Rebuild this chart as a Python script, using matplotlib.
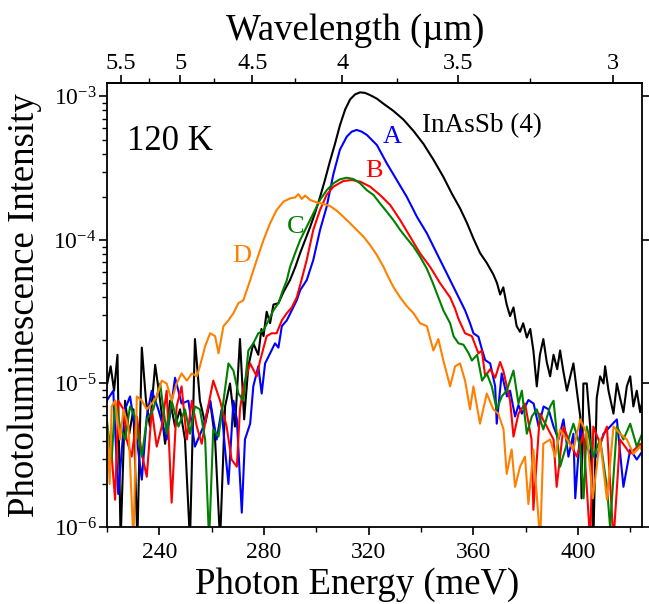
import numpy as np
import matplotlib
matplotlib.use("Agg")
import matplotlib.pyplot as plt
from matplotlib.ticker import FixedLocator, FuncFormatter, LogLocator, NullFormatter

plt.rcParams['font.family'] = ['Liberation Serif', 'DejaVu Serif']
plt.rcParams['mathtext.fontset'] = 'custom'
plt.rcParams['mathtext.rm'] = 'Liberation Serif'
plt.rcParams['mathtext.it'] = 'Liberation Serif:italic'

# ---------------- data (photon energy in meV, log10 of PL intensity) ----------------
E_black = [220.1, 221.4, 222.7, 224.0, 225.2, 226.9, 228.5, 230.1, 231.6, 233.3, 234.9, 236.4, 238.4,
           240.3, 242.2, 244.1, 246.0, 247.9, 249.8, 251.7, 253.6, 255.5, 257.5, 259.4, 261.3, 263.2,
           265.1, 267.0, 268.9, 270.8, 272.4, 274.0, 275.9, 277.8, 279.0, 279.8, 281.0, 282.3, 283.6,
           285.5, 287.5, 289.9, 291.9, 293.8, 295.7, 297.6, 299.5, 301.4, 303.3, 305.2, 307.1, 309.0,
           311.0, 312.9, 314.8, 316.7, 318.6, 320.5, 323.1, 325.6, 329.4, 333.2, 337.1, 340.9, 344.7,
           348.5, 351.7, 354.9, 357.5, 360.0, 362.5, 365.1, 367.6, 369.0, 370.2, 371.4, 372.7, 374.0,
           375.3, 376.5, 377.8, 379.0, 380.4, 381.7, 382.9, 384.2, 385.4, 386.7, 388.0, 389.3, 390.6,
           392.0, 393.1, 394.4, 395.7, 397.0, 398.2, 399.5, 400.8, 401.3, 402.0, 403.3, 404.6, 405.8,
           407.1, 408.4, 409.7, 410.3, 411.6, 413.5, 414.8, 416.0, 417.3, 418.6, 419.9, 421.1, 422.4,
           423.7, 424.9]
L_black = [-5.00, -4.88, -5.05, -4.80, -6.10, -5.12, -5.35, -5.18, -6.10, -4.75, -5.12, -5.30, -4.87,
           -5.12, -5.42, -5.12, -5.30, -5.18, -5.39, -6.10, -4.69, -5.12, -5.28, -5.12, -5.39, -6.10,
           -5.16, -5.00, -5.30, -4.69, -5.25, -4.88, -4.72, -4.80, -4.62, -4.67, -4.50, -4.58, -4.45,
           -4.44, -4.36, -4.28, -4.19, -4.09, -4.00, -3.91, -3.81, -3.70, -3.58, -3.45, -3.33, -3.20,
           -3.09, -3.02, -2.985, -2.971, -2.975, -2.99, -3.015, -3.05, -3.10, -3.16, -3.24, -3.33, -3.44,
           -3.56, -3.675, -3.78, -3.88, -3.99, -4.09, -4.16, -4.24, -4.30, -4.38, -4.33, -4.45, -4.53,
           -4.47, -4.60, -4.64, -4.58, -4.68, -4.62, -4.77, -5.02, -4.80, -4.69, -4.85, -4.95, -4.80,
           -4.90, -4.77, -4.92, -5.05, -4.95, -4.86, -5.05, -5.23, -5.80, -5.00, -5.00, -5.30, -6.10,
           -5.10, -4.95, -5.00, -4.88, -5.05, -5.21, -5.00, -5.10, -5.20, -5.02, -4.95, -5.16, -5.05,
           -5.20, -5.09]

E_A = [219.9, 222.4, 224.3, 226.9, 228.8, 231.4, 233.3, 235.2, 237.1, 239.6, 242.8, 246.0, 248.5,
       251.1, 253.6, 256.8, 259.4, 261.9, 263.8, 265.1, 266.4, 268.3, 269.6, 271.5, 272.7, 274.7,
       275.9, 277.8, 279.1, 280.4, 282.3, 284.2, 285.5, 286.8, 288.7, 290.6, 292.5, 293.8, 296.3,
       298.8, 301.4, 303.9, 306.5, 309.0, 311.6, 313.5, 315.4, 317.3, 319.3, 323.1, 326.9, 330.7,
       334.5, 338.4, 342.2, 346.0, 349.8, 353.6, 356.8, 358.7, 360.0, 361.9, 363.2, 364.5, 366.4,
       368.3, 368.9, 370.8, 372.8, 374.0, 375.9, 377.2, 378.5, 381.0, 383.0, 384.9, 386.8, 388.7,
       390.6, 392.5, 394.4, 396.3, 398.2, 398.9, 400.8, 402.7, 404.6, 407.1, 409.7, 412.2, 414.8,
       417.3, 419.9, 422.4, 425.0]
L_A = [-5.12, -5.05, -5.77, -5.18, -5.09, -5.39, -5.67, -5.23, -5.05, -5.18, -5.39, -4.96, -5.14,
       -5.12, -5.44, -5.30, -5.12, -5.39, -5.18, -5.46, -5.70, -5.12, -5.25, -5.90, -5.39, -5.28,
       -5.02, -4.88, -5.07, -4.86, -4.79, -4.72, -4.75, -4.60, -4.56, -4.49, -4.42, -4.35, -4.28,
       -4.14, -3.93, -3.77, -3.54, -3.37, -3.28, -3.245, -3.233, -3.245, -3.268, -3.338, -3.466, -3.582,
       -3.698, -3.838, -3.953, -4.093, -4.232, -4.372, -4.49, -4.58, -4.65, -4.674, -4.76, -4.837, -4.86,
       -5.02, -5.28, -4.93, -5.09, -5.05, -5.23, -5.15, -5.21, -5.115, -5.14, -5.30, -5.16, -5.18,
       -5.30, -5.39, -5.25, -5.51, -5.35, -5.80, -5.32, -5.42, -5.49, -5.51, -5.35, -5.30, -5.25,
       -5.72, -5.46, -5.53, -5.46]

E_B = [219.9, 221.2, 223.1, 224.3, 226.3, 227.5, 229.4, 231.4, 233.3, 235.2, 237.1, 239.0, 240.9,
       242.8, 244.7, 246.6, 248.5, 250.5, 252.4, 254.3, 256.2, 258.1, 260.6, 263.2, 265.7, 267.6,
       269.6, 270.8, 272.1, 274.7, 277.2, 278.5, 281.0, 282.9, 284.8, 286.8, 288.7, 290.6, 292.5,
       294.0, 296.3, 298.8, 301.4, 303.9, 306.5, 310.3, 313.5, 316.7, 320.5, 324.3, 328.2, 332.0,
       335.8, 339.6, 343.4, 347.3, 351.1, 353.0, 354.3, 356.8, 359.4, 361.9, 363.2, 364.5, 366.4,
       368.3, 370.2, 371.4, 374.0, 375.3, 377.2, 379.7, 382.2, 382.9, 385.4, 388.0, 390.6, 391.8,
       394.4, 396.9, 399.5, 402.0, 404.6, 405.8, 408.4, 411.0, 413.5, 416.0, 419.9, 423.7, 426.9]
L_B = [-5.49, -5.37, -5.81, -5.12, -5.18, -5.39, -5.51, -5.23, -5.49, -5.65, -5.18, -5.44, -5.30,
       -5.05, -5.83, -5.16, -5.02, -5.39, -5.12, -5.30, -5.42, -5.21, -4.98, -5.12, -5.30, -5.53,
       -5.58, -5.18, -5.02, -4.86, -4.95, -4.84, -4.67, -4.65, -4.65, -4.56, -4.51, -4.47, -4.40,
       -4.30, -4.14, -3.93, -3.79, -3.686, -3.628, -3.589, -3.582, -3.593, -3.628, -3.686, -3.756, -3.861,
       -3.977, -4.093, -4.186, -4.302, -4.40, -4.48, -4.55, -4.65, -4.67, -4.79, -4.77, -4.95, -4.90,
       -4.96, -4.85, -4.91, -5.12, -5.37, -5.21, -5.14, -5.39, -5.88, -5.21, -5.30, -5.39, -5.72,
       -5.30, -5.42, -5.51, -5.35, -6.10, -5.30, -5.42, -5.30, -6.10, -5.39, -5.49, -5.42, -5.51]

E_C = [219.9, 221.8, 223.1, 225.0, 226.9, 228.8, 230.7, 233.3, 235.2, 237.7, 240.3, 242.8, 244.7,
       247.3, 249.8, 251.7, 253.6, 255.5, 257.5, 259.0, 260.6, 262.6, 264.5, 266.4, 268.3, 270.2,
       272.1, 274.0, 275.9, 277.8, 279.8, 281.7, 283.6, 285.5, 287.0, 288.7, 289.9, 291.9, 293.8,
       295.7, 297.6, 299.5, 301.4, 304.0, 306.5, 309.0, 311.6, 314.1, 316.7, 319.2, 321.8, 324.3,
       326.9, 329.4, 332.0, 334.5, 337.1, 339.6, 342.2, 344.5, 346.6, 348.5, 351.1, 352.4, 354.3,
       356.2, 358.2, 359.4, 361.4, 363.3, 365.1, 367.0, 368.9, 370.8, 372.7, 375.3, 377.2, 378.5,
       380.4, 382.3, 384.2, 386.7, 389.3, 390.6, 393.1, 395.7, 398.2, 400.8, 402.1, 403.3, 405.8,
       408.4, 411.0, 412.2, 414.8, 417.3, 419.9, 422.4, 425.6]
L_C = [-5.25, -5.53, -5.12, -5.30, -5.39, -5.16, -5.23, -5.51, -5.25, -5.18, -5.00, -5.35, -5.12,
       -5.30, -5.18, -5.35, -5.16, -5.18, -5.39, -6.10, -5.32, -5.37, -5.12, -4.86, -4.91, -5.07,
       -5.12, -4.77, -4.72, -4.65, -4.63, -4.56, -4.49, -4.44, -4.36, -4.28, -4.19, -4.09, -4.00,
       -3.93, -3.86, -3.79, -3.72, -3.652, -3.605, -3.577, -3.566, -3.575, -3.605, -3.652, -3.686, -3.745,
       -3.803, -3.861, -3.930, -3.988, -4.046, -4.116, -4.20, -4.30, -4.40, -4.49, -4.58, -4.67, -4.72,
       -4.73, -4.79, -4.84, -4.80, -4.98, -4.93, -5.02, -5.18, -5.09, -5.05, -4.91, -5.14, -5.05,
       -5.35, -5.23, -5.18, -5.32, -5.16, -5.12, -5.58, -5.42, -5.28, -5.44, -5.80, -5.30, -5.51,
       -5.39, -5.72, -6.00, -5.30, -5.39, -5.28, -5.44, -5.30]

E_D = [219.9, 221.0, 221.8, 223.1, 225.0, 226.3, 228.2, 230.1, 231.4, 233.3, 235.2, 237.1, 239.0,
       240.9, 242.8, 244.7, 246.6, 248.5, 250.5, 252.4, 254.3, 255.5, 257.5, 259.4, 261.3, 262.6,
       264.5, 266.4, 268.3, 270.2, 272.1, 274.7, 277.2, 279.8, 282.3, 284.8, 287.4, 289.9, 291.9,
       293.1, 294.4, 295.7, 297.6, 300.1, 302.7, 305.2, 307.8, 310.3, 312.9, 315.4, 318.0, 320.5,
       323.1, 325.6, 327.5, 329.5, 332.0, 334.5, 337.1, 339.6, 342.2, 344.7, 346.6, 348.5, 351.1,
       353.0, 354.9, 356.8, 358.7, 360.0, 362.5, 365.1, 367.6, 369.5, 371.5, 372.7, 374.6, 375.9,
       377.8, 379.7, 381.0, 382.9, 385.5, 386.7, 389.3, 391.2, 393.1, 395.7, 398.2, 400.8, 403.3,
       405.6, 408.4, 411.0, 413.5, 416.0, 418.6, 421.1, 423.7, 426.9]
L_D = [-5.23, -5.70, -5.16, -5.12, -5.39, -5.18, -5.30, -6.10, -5.09, -5.12, -5.18, -5.14, -5.09,
       -4.98, -5.00, -5.12, -5.00, -4.93, -4.98, -4.93, -4.95, -4.88, -4.74, -4.65, -4.67, -4.79,
       -4.60, -4.56, -4.51, -4.44, -4.42, -4.28, -4.14, -4.00, -3.884, -3.791, -3.733, -3.710, -3.703,
       -3.680, -3.714, -3.690, -3.721, -3.738, -3.749, -3.763, -3.796, -3.838, -3.884, -3.930, -3.977, -4.035,
       -4.105, -4.186, -4.26, -4.33, -4.40, -4.46, -4.51, -4.58, -4.60, -4.77, -4.69, -4.84, -5.02,
       -4.88, -4.86, -4.98, -5.18, -5.02, -5.28, -5.07, -5.18, -5.21, -5.32, -5.63, -5.46, -5.72,
       -5.58, -5.51, -5.84, -5.46, -6.10, -5.42, -5.39, -5.51, -5.32, -5.39, -5.46, -5.25, -5.35,
       -5.80, -5.39, -5.81, -5.30, -5.35, -5.39, -5.49, -5.44, -5.58]

series = [
    (E_black, L_black, 'black'),
    (E_A, L_A, '#0000FF'),
    (E_B, L_B, '#FF0000'),
    (E_C, L_C, '#008000'),
    (E_D, L_D, '#FF8000'),
]

x_major = [240, 280, 320, 360, 400]
x_minor = [220, 260, 300, 340, 380, 420]
wl_major = [5.5, 5, 4.5, 4, 3.5, 3]
wl_minor = [5.25, 4.75, 4.25, 3.75, 3.25]
y_major = [1e-6, 1e-5, 1e-4, 1e-3]

# ---------------- figure ----------------
W, H = 649, 604
fig = plt.figure(figsize=(W / 100, H / 100), dpi=100)
L, R, T, B = 107, 642, 83, 527
ax = fig.add_axes([L / W, 1 - B / H, (R - L) / W, (B - T) / H])

for E, lg, c in series:
    ax.plot(E, 10 ** np.array(lg), color=c, lw=1.5, solid_joinstyle='round')

ax.set_yscale('log')
ax.set_xlim(220, 424.4)
ax.set_ylim(1e-6, 10 ** (-6 + 444 / 143.5))

ax.xaxis.set_major_locator(FixedLocator(x_major))
ax.xaxis.set_minor_locator(FixedLocator(x_minor))
ax.yaxis.set_major_locator(FixedLocator(y_major))
ax.yaxis.set_minor_locator(LogLocator(base=10, subs=np.arange(2, 10)))
ax.yaxis.set_minor_formatter(NullFormatter())
ax.yaxis.set_major_formatter(FuncFormatter(lambda v, p: r'$10^{%d}$' % int(round(np.log10(v)))))

ax.tick_params(axis='both', which='major', direction='out', length=5.5, width=1.2, colors='black')
ax.tick_params(axis='both', which='minor', direction='out', length=3.5, width=1.0)
ax.tick_params(axis='x', which='both', top=False, bottom=True)
ax.tick_params(axis='x', which='major', labelsize=17, pad=5)
ax.tick_params(axis='y', which='major', left=True, right=True, labelsize=17, pad=2)
ax.tick_params(axis='y', which='minor', left=True, right=False)
for s in ax.spines.values():
    s.set_linewidth(1.3)

def e2wl(e):
    e = np.asarray(e, dtype=float)
    return 1239.84 / np.where(np.abs(e) < 1e-9, 1e-9, e)

sec = ax.secondary_xaxis('top', functions=(e2wl, e2wl))
sec.xaxis.set_major_locator(FixedLocator(wl_major))
sec.xaxis.set_minor_locator(FixedLocator(wl_minor))
sec.xaxis.set_major_formatter(FuncFormatter(lambda v, p: '%g' % v))
sec.tick_params(which='major', direction='out', length=5.5, width=1.2, labelsize=17.5, pad=1)
sec.tick_params(which='minor', direction='out', length=3.5, width=1.0)
sec.spines['top'].set_linewidth(1.3)

fig.text(355 / W, 1 - 40 / H, 'Wavelength (µm)', fontsize=26.5, ha='center', va='baseline')

ax.set_xlabel('Photon Energy (meV)', fontsize=26.5)
ax.xaxis.set_label_coords(0.467, -0.09)
ax.set_ylabel('Photoluminescence Intensity', fontsize=26.5)
ax.yaxis.set_label_coords(-0.1215, 0.5)

def fx(px):
    return (px - L) / (R - L)

def fy(py):
    return (B - py) / (B - T)

ax.text(fx(127), fy(150), '120 K', fontsize=25, transform=ax.transAxes, va='baseline', ha='left')
ax.text(fx(422), fy(132), 'InAsSb (4)', fontsize=19.5, transform=ax.transAxes, va='baseline', ha='left')
ax.text(fx(383), fy(143), 'A', fontsize=19, color='#0000FF', transform=ax.transAxes, va='baseline')
ax.text(fx(365), fy(177), 'B', fontsize=19, color='#FF0000', transform=ax.transAxes, va='baseline')
ax.text(fx(287), fy(233), 'C', fontsize=19, color='#008000', transform=ax.transAxes, va='baseline')
ax.text(fx(232), fy(262), 'D', fontsize=19, color='#FF8000', transform=ax.transAxes, va='baseline')

fig.savefig('out.png', dpi=100)
